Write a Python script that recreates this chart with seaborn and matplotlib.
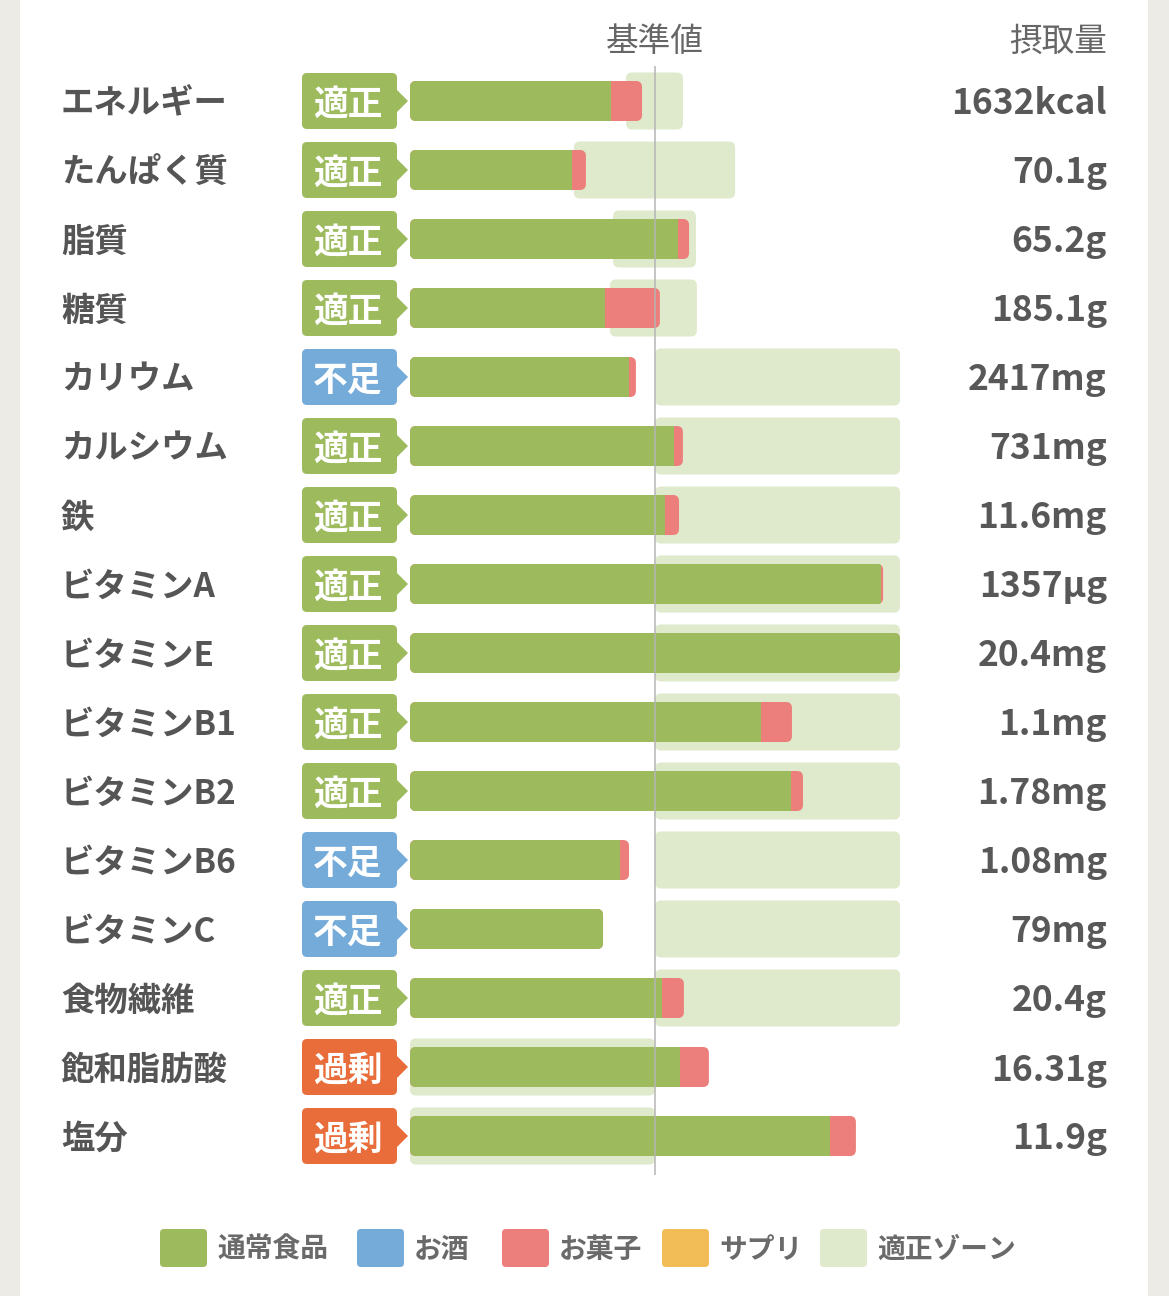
import matplotlib
matplotlib.use("Agg")
import matplotlib.pyplot as plt
from matplotlib.patches import FancyBboxPatch, Polygon, Rectangle
import pandas as pd
import seaborn as sns

nutrients = ["エネルギー", "たんぱく質", "脂質", "糖質", "カリウム", "カルシウム", "鉄",
             "ビタミンA", "ビタミンE", "ビタミンB1", "ビタミンB2", "ビタミンB6", "ビタミンC",
             "食物繊維", "飽和脂肪酸", "塩分"]
status = ["適正", "適正", "適正", "適正", "不足", "適正", "適正", "適正",
          "適正", "適正", "適正", "不足", "不足", "適正", "過剰", "過剰"]
intake = ["1632kcal", "70.1g", "65.2g", "185.1g", "2417mg", "731mg", "11.6mg", "1357µg",
          "20.4mg", "1.1mg", "1.78mg", "1.08mg", "79mg", "20.4g", "16.31g", "11.9g"]
# percent of the reference value (基準値 = 100), display capped at 200
food_pct = [82.0, 66.1, 109.4, 79.6, 89.4, 107.8, 104.1, 192.2,
            200.0, 143.3, 155.5, 85.7, 78.8, 102.9, 110.2, 171.4]
snack_pct = [12.7, 5.7, 4.5, 22.4, 2.8, 3.6, 5.7, 0.9,
             0.0, 12.6, 4.9, 3.7, 0.0, 8.9, 11.8, 10.6]
zone_lo = [88.2, 66.9, 82.9, 81.6, 100, 100, 100, 100,
           100, 100, 100, 100, 100, 100, 0, 0]
zone_hi = [111.4, 132.7, 116.7, 117.1, 200, 200, 200, 200,
           200, 200, 200, 200, 200, 200, 100, 100]
legend_labels = ["通常食品", "お酒", "お菓子", "サプリ", "適正ゾーン"]

GREEN = "#9dbb5d"
BLUE = "#75abd9"
RED = "#ec7f7b"
YELLOW = "#f2bd56"
ZONE = "#dfe9cc"
BADGE = {"適正": GREEN, "不足": BLUE, "過剰": "#e96d3b"}
TEXT = "#555555"

sns.set_theme(style="white")
plt.rcParams["font.family"] = ["Noto Sans CJK JP", "DejaVu Sans"]

# pixel layout: 0% at x=410, 100% at x=655; rows 69px apart, first at y=101
X0, PX = 410, 2.45
Y0, PY = 101, 69


def xd(px):
    return (px - X0) / PX


def yd(py):
    return (py - Y0) / PY


ASPECT = PX / PY
DY = 3 / PY  # text sits a little lower than the bar centre


def rounded(x, y, w, h, color, r_px=6, **kw):
    return FancyBboxPatch((x, y), w, h, boxstyle="round,pad=0,rounding_size=%f" % (r_px / PX),
                          mutation_aspect=ASPECT, facecolor=color, edgecolor="none", **kw)


def round_container(ax, container, color, zorder):
    out = []
    for rect in container:
        p = rounded(rect.get_x(), rect.get_y(), rect.get_width(), rect.get_height(), color, zorder=zorder)
        ax.add_patch(p)
        rect.set_visible(False)
        out.append(p)
    return out


df = pd.DataFrame({
    "nutrient": nutrients,
    "food": food_pct,
    "total": [min(f + s, 200) for f, s in zip(food_pct, snack_pct)],
})

fig = plt.figure(figsize=(11.69, 12.96), dpi=100)
fig.patch.set_facecolor("white")
ax = fig.add_axes([0, 0, 1, 1])

# appropriate zone
zone = ax.barh(range(len(nutrients)), [h - l for l, h in zip(zone_lo, zone_hi)], left=zone_lo,
               height=57 / PY, color=ZONE, linewidth=0)
round_container(ax, zone, ZONE, 1)

sns.barplot(data=df, x="total", y="nutrient", color=RED, saturation=1, width=40 / PY,
            linewidth=0, edgecolor="none", ax=ax)
sns.barplot(data=df, x="food", y="nutrient", color=GREEN, saturation=1, width=40 / PY,
            linewidth=0, edgecolor="none", ax=ax)
red_patches = round_container(ax, ax.containers[1], RED, 2)
for rect, clip in zip(ax.containers[2], red_patches):
    rect.set_zorder(3)
    rect.set_clip_path(clip)

ax.set_xlim(xd(0), xd(1169))
ax.set_ylim(yd(1296), yd(0))
ax.axis("off")

# reference line
ax.vlines(100, yd(66), yd(1175), color="#b5b5b5", linewidth=1.1, zorder=4)

ax.text(100, yd(42), "基準値", ha="center", va="center", fontsize=23.5, color="#666666")
ax.text(xd(1107), yd(42), "摂取量", ha="right", va="center", fontsize=23.5, color="#666666")

for i, (name, st, val) in enumerate(zip(nutrients, status, intake)):
    ax.text(xd(61), i + DY, name, ha="left", va="center", fontsize=24, fontweight="bold", color=TEXT)
    ax.text(xd(1107), i + DY, val, ha="right", va="center", fontsize=25.5, fontweight="bold",
            color="#585858")
    c = BADGE[st]
    ax.add_patch(rounded(xd(302), i - 28 / PY, xd(397) - xd(302), 56 / PY, c, r_px=5, zorder=2))
    ax.add_patch(Polygon([(xd(396), i - 12 / PY), (xd(408), i), (xd(396), i + 12 / PY)],
                         closed=True, facecolor=c, edgecolor="none", zorder=2))
    ax.text(xd(348), i + DY, st, ha="center", va="center", fontsize=25, fontweight="bold",
            color="white", zorder=3)

# legend
leg_colors = [GREEN, BLUE, RED, YELLOW, ZONE]
leg_x = [160, 357, 502, 662, 820]
for lx, lc, lt in zip(leg_x, leg_colors, legend_labels):
    ax.add_patch(rounded(xd(lx), yd(1229), 47 / PX, 38 / PY, lc, r_px=4, zorder=2))
    ax.text(xd(lx + 57), yd(1250), lt, ha="left", va="center", fontsize=20,
            fontweight="bold", color="#6a6a6a")

# page margins
fig.patches.append(Rectangle((0, 0), 20 / 1169, 1, transform=fig.transFigure,
                             facecolor="#ecebe5", edgecolor="none", zorder=-1))
fig.patches.append(Rectangle((1148 / 1169, 0), 21 / 1169, 1, transform=fig.transFigure,
                             facecolor="#ecebe5", edgecolor="none", zorder=-1))

fig.savefig("out.png", dpi=100, facecolor="white")
